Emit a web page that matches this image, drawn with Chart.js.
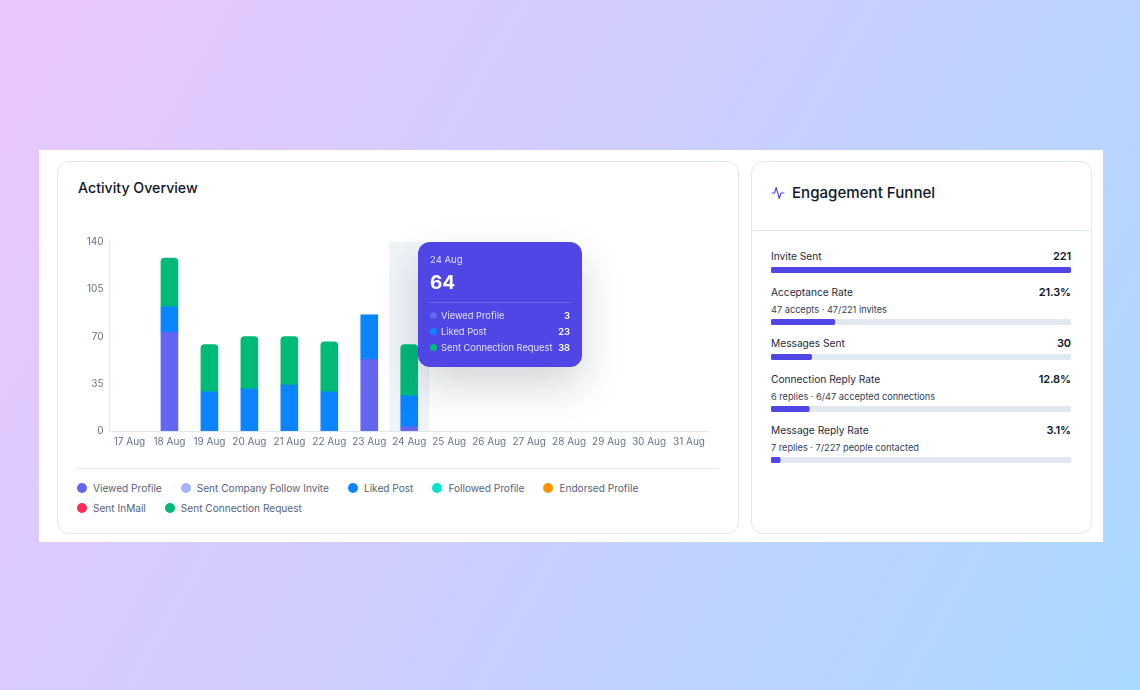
<!DOCTYPE html>
<html>
<head>
<meta charset="utf-8">
<script src="https://cdn.jsdelivr.net/npm/chart.js@4"></script>
<style>
* { box-sizing: border-box; margin: 0; padding: 0; }
html, body { width: 1140px; height: 690px; overflow: hidden; }
body {
    position: relative;
    font-family: Inter, "Noto Sans", sans-serif;
    background: linear-gradient(120deg, #ebc7fe 0%, #cfcdfe 45%, #a9d9ff 100%);
}
.sheet { position: absolute; left: 39px; top: 150px; width: 1064px; height: 392px; background: #fff; }
.card { position: absolute; top: 161px; height: 373px; background: #fff; border: 1px solid #e2e8f0; border-radius: 12px; }
#activity { left: 57px; width: 682px; }
#funnel { left: 751px; width: 341px; }
.abs { position: absolute; white-space: nowrap; }
#activityTitle { left: 78px; top: 178px; font-size: 14.2px; line-height: 20px; font-weight: 500; color: #0f172a; }
#funnelTitle { left: 792px; top: 181px; font-size: 15.1px; line-height: 24px; font-weight: 500; color: #0f172a; }
#chartBox { position: absolute; left: 77px; top: 230px; width: 633px; height: 230px; }
#legendLine { position: absolute; left: 77px; top: 468px; width: 642px; height: 1px; background: #e2e8f0; }
#legend { position: absolute; left: 77px; top: 479px; width: 642px; display: flex; flex-wrap: wrap; row-gap: 1.5px; column-gap: 19px; padding-right: 60px; }
.legendItem { display: flex; align-items: center; height: 18px; font-size: 10.1px; color: #56637a; }
.legendItem i { width: 10px; height: 10px; border-radius: 50%; margin-right: 6px; display: block; }
#headLine { position: absolute; left: 752px; top: 230px; width: 339px; height: 1px; background: #e2e8f0; }
#rows .rowLabel { left: 771px; font-size: 10.2px; line-height: 14px; color: #1e293b; }
#rows .rowValue { right: 69px; font-size: 11px; line-height: 14px; font-weight: 600; letter-spacing: -.1px; color: #0f172a; }
#rows .rowSub { left: 771px; font-size: 9.2px; line-height: 12px; color: #334155; }
.rowBar { position: absolute; left: 771px; width: 300px; height: 6px; }
#tip { position: absolute; left: 418px; top: 242px; width: 164px; height: 125px; background: #4f46e5; border-radius: 12px; color: #fff;
    box-shadow: 0 18px 40px rgba(15, 23, 42, .18); }
#tipDate { left: 12px; top: 12px; font-size: 9.5px; line-height: 12px; color: #dfe0fb; }
#tipTotal { left: 12px; top: 28px; font-size: 19px; line-height: 26px; font-weight: 700; }
#tipLine { position: absolute; left: 12px; top: 60px; width: 140px; height: 1px; background: rgba(255,255,255,.16); }
.tipRow { position: absolute; left: 12px; width: 140px; display: flex; align-items: center; height: 14px; font-size: 9.3px; color: #e0e1fb; }
.tipRow i { width: 7px; height: 7px; border-radius: 50%; margin-right: 4px; display: block; }
.tipRow span { flex: 1; white-space: nowrap; }
.tipRow b { color: #fff; font-weight: 600; }
</style>
</head>
<body>
<div class="sheet"></div>
<div class="card" id="activity"></div>
<div class="card" id="funnel"></div>
<div class="abs" id="activityTitle">Activity Overview</div>
<div id="chartBox"><canvas id="activityChart"></canvas></div>
<div id="legendLine"></div>
<div id="legend"></div>
<div id="tip">
    <div class="abs" id="tipDate"></div>
    <div class="abs" id="tipTotal"></div>
    <div id="tipLine"></div>
</div>
<svg class="abs" style="left:771px;top:186px" width="14" height="14" viewBox="0 0 14 14" fill="none" stroke="#4f46e5" stroke-width="1.1" stroke-linejoin="round" stroke-linecap="round">
    <polyline points="1,7 3.4,7 5.2,1.5 8.3,12.5 10,7 13,7"/>
</svg>
<div class="abs" id="funnelTitle">Engagement Funnel</div>
<div id="headLine"></div>
<div id="rows"></div>

<script>
const days = ['17 Aug', '18 Aug', '19 Aug', '20 Aug', '21 Aug', '22 Aug', '23 Aug', '24 Aug',
              '25 Aug', '26 Aug', '27 Aug', '28 Aug', '29 Aug', '30 Aug', '31 Aug'];
const yTicks = [0, 35, 70, 105, 140];

const viewedProfile     = [0, 73, 0, 0, 0, 0, 53, 3, 0, 0, 0, 0, 0, 0, 0];
const sentCompanyFollow = [0, 0, 0, 0, 0, 0, 0, 0, 0, 0, 0, 0, 0, 0, 0];
const likedPost         = [0, 19, 29, 31, 34, 29, 33, 23, 0, 0, 0, 0, 0, 0, 0];
const followedProfile   = [0, 0, 0, 0, 0, 0, 0, 0, 0, 0, 0, 0, 0, 0, 0];
const endorsedProfile   = [0, 0, 0, 0, 0, 0, 0, 0, 0, 0, 0, 0, 0, 0, 0];
const sentInMail        = [0, 0, 0, 0, 0, 0, 0, 0, 0, 0, 0, 0, 0, 0, 0];
const sentConnection    = [0, 36, 35, 39, 36, 37, 0, 38, 0, 0, 0, 0, 0, 0, 0];

const seriesNames = ['Viewed Profile', 'Sent Company Follow Invite', 'Liked Post', 'Followed Profile',
                     'Endorsed Profile', 'Sent InMail', 'Sent Connection Request'];
const seriesColors = ['#6366f1', '#a5b4fc', '#0a84ff', '#00e5cc', '#ff9500', '#ff2d55', '#00ba78'];
const seriesValues = [viewedProfile, sentCompanyFollow, likedPost, followedProfile, endorsedProfile, sentInMail, sentConnection];

const highlightIndex = 7;

const funnelLabels = ['Invite Sent', 'Acceptance Rate', 'Messages Sent', 'Connection Reply Rate', 'Message Reply Rate'];
const funnelValues = ['221', '21.3%', '30', '12.8%', '3.1%'];
const funnelNotes = ['', '47 accepts · 47/221 invites', '', '6 replies · 6/47 accepted connections', '7 replies · 7/227 people contacted'];
const funnelPercents = [100, 21.3, 13.6, 12.8, 3.1];

// vertical placement of each funnel row
const rowLabelTops = [249, 285, 336, 372, 423];
const rowNoteTops = [0, 304, 0, 391, 442];
const rowBarTops = [267, 318.5, 354, 405.5, 457];

// band behind the hovered day
const highlightBand = {
    id: 'highlightBand',
    beforeDatasetsDraw(chart) {
        const { ctx, chartArea, scales } = chart;
        const c = scales.x.getPixelForValue(highlightIndex);
        const half = (scales.x.getPixelForValue(1) - scales.x.getPixelForValue(0)) / 2;
        ctx.save();
        ctx.fillStyle = '#f0f4f9';
        ctx.fillRect(c - half, chartArea.top, half * 2, chartArea.bottom - chartArea.top);
        ctx.restore();
    }
};

new Chart(document.getElementById('activityChart'), {
    type: 'bar',
    plugins: [highlightBand],
    data: {
        labels: days,
        datasets: seriesNames.map((name, i) => ({
            label: name,
            data: seriesValues[i].map(v => v || null), // empty days draw nothing
            backgroundColor: seriesColors[i],
            barThickness: 17,
            borderSkipped: false,
            borderRadius: name === 'Sent Connection Request' ? { topLeft: 4, topRight: 4, bottomLeft: 0, bottomRight: 0 } : 0
        }))
    },
    options: {
        responsive: true,
        maintainAspectRatio: false,
        animation: false,
        layout: { padding: { top: 2 } },
        plugins: { legend: { display: false }, tooltip: { enabled: false } },
        scales: {
            x: {
                stacked: true,
                afterFit: s => { s.height = 29; },
                grid: { display: false, drawTicks: false },
                border: { color: '#e2e8f0' },
                ticks: { color: '#64748b', font: { family: 'Inter', size: 10 }, maxRotation: 0, autoSkip: false, padding: 5 }
            },
            y: {
                stacked: true,
                min: 0,
                max: 140,
                afterFit: s => { s.width = 32.5; },
                afterBuildTicks: s => { s.ticks = yTicks.map(v => ({ value: v })); },
                grid: { display: false, drawTicks: false },
                border: { color: '#e2e8f0' },
                ticks: { color: '#64748b', font: { family: 'Inter', size: 10 }, padding: 6 }
            }
        }
    }
});

// legend
const legend = document.getElementById('legend');
seriesNames.forEach((name, i) => {
    const item = document.createElement('div');
    item.className = 'legendItem';
    item.innerHTML = `<i style="background:${seriesColors[i]}"></i>${name}`;
    legend.appendChild(item);
});

// tooltip
const tip = document.getElementById('tip');
document.getElementById('tipDate').textContent = days[highlightIndex];
document.getElementById('tipTotal').textContent = seriesValues.reduce((sum, s) => sum + s[highlightIndex], 0);
let tipTop = 66.5;
seriesNames.forEach((name, i) => {
    const v = seriesValues[i][highlightIndex];
    if (!v) return;
    const row = document.createElement('div');
    row.className = 'tipRow';
    row.style.top = tipTop + 'px';
    row.innerHTML = `<i style="background:${seriesColors[i]}"></i><span>${name}</span><b>${v}</b>`;
    tip.appendChild(row);
    tipTop += 16.2;
});

// funnel rows
const rows = document.getElementById('rows');
funnelLabels.forEach((label, i) => {
    rows.insertAdjacentHTML('beforeend',
        `<div class="abs rowLabel" style="top:${rowLabelTops[i]}px">${label}</div>` +
        `<div class="abs rowValue" style="top:${rowLabelTops[i]}px">${funnelValues[i]}</div>` +
        (funnelNotes[i] ? `<div class="abs rowSub" style="top:${rowNoteTops[i]}px">${funnelNotes[i]}</div>` : '') +
        `<div class="rowBar" style="top:${rowBarTops[i]}px"><canvas id="rowBar${i}"></canvas></div>`);
});

funnelLabels.forEach((label, i) => {
    new Chart(document.getElementById('rowBar' + i), {
        type: 'bar',
        data: {
            labels: [label],
            datasets: [
                { data: [funnelPercents[i]], backgroundColor: '#4f46e5', order: 0, borderRadius: 3, borderSkipped: false },
                { data: [100], backgroundColor: '#e2e8f0', order: 1, borderRadius: 3, borderSkipped: false }
            ]
        },
        options: {
            indexAxis: 'y',
            responsive: true,
            maintainAspectRatio: false,
            animation: false,
            layout: { padding: 0 },
            plugins: { legend: { display: false }, tooltip: { enabled: false } },
            datasets: { bar: { grouped: false, barPercentage: 1, categoryPercentage: 1 } },
            scales: {
                x: { display: false, min: 0, max: 100 },
                y: { display: false }
            }
        }
    });
});
</script>
</body>
</html>
